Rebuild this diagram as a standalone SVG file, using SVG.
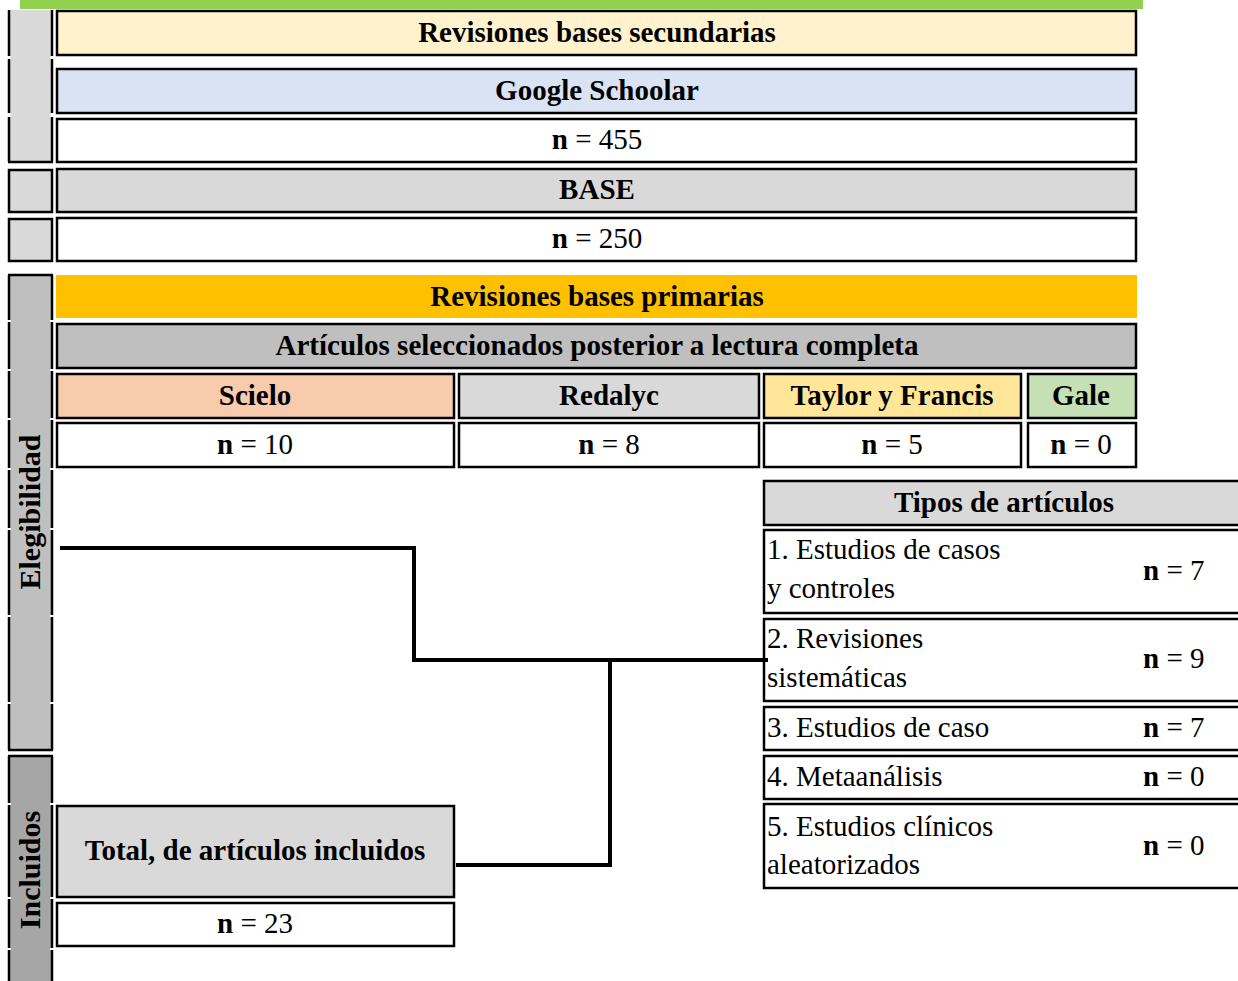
<svg xmlns="http://www.w3.org/2000/svg" width="1238" height="981" viewBox="0 0 1238 981">
<style>
text{font-family:'Liberation Serif',serif;font-size:29px;fill:#000}
.b{font-weight:bold}
.c{text-anchor:middle}
.v{font-size:30px}
.box{stroke:#000;stroke-width:2.5}
.ln{fill:none;stroke:#000;stroke-width:4}
.side{stroke:#000;stroke-width:2.5}
.gap{fill:#fff}
</style>
<rect x="0" y="0" width="1238" height="981" fill="#fff"/>
<rect x="20" y="0" width="1123" height="9" fill="#92d050"/>

<g id="strip-top">
<rect x="9" y="10" width="43" height="152" fill="#d9d9d9"/>
<line class="side" x1="9" y1="10" x2="9" y2="162"/>
<line class="side" x1="52" y1="10" x2="52" y2="162"/>
<line class="side" x1="8" y1="162" x2="53" y2="162"/>
<rect class="gap" x="6" y="56" width="50" height="3"/>
<rect class="gap" x="6" y="113" width="50" height="4"/>
<rect x="10.5" y="56" width="40" height="3" fill="#d9d9d9"/>
<rect x="10.5" y="113" width="40" height="4" fill="#d9d9d9"/>
</g>
<g id="strip-2"><rect class="box" x="9" y="170" width="43" height="42" fill="#d9d9d9"/></g>
<g id="strip-3"><rect class="box" x="9" y="219" width="43" height="42" fill="#d9d9d9"/></g>

<g id="elegibilidad">
<rect x="9" y="275" width="43" height="475" fill="#bfbfbf"/>
<line class="side" x1="9" y1="275" x2="9" y2="750"/>
<line class="side" x1="52" y1="275" x2="52" y2="750"/>
<line class="side" x1="8" y1="275" x2="53" y2="275"/>
<line class="side" x1="8" y1="750" x2="53" y2="750"/>
<g class="gap">
<rect x="6" y="320" width="5" height="2"/><rect x="50" y="320" width="5" height="2"/>
<rect x="6" y="369" width="5" height="2"/><rect x="50" y="369" width="5" height="2"/>
<rect x="6" y="418" width="5" height="2"/><rect x="50" y="418" width="5" height="2"/>
<rect x="6" y="468" width="5" height="2"/><rect x="50" y="468" width="5" height="2"/>
<rect x="6" y="528" width="5" height="2"/><rect x="50" y="528" width="5" height="2"/>
<rect x="6" y="615" width="5" height="2"/><rect x="50" y="615" width="5" height="2"/>
<rect x="6" y="702" width="5" height="2"/><rect x="50" y="702" width="5" height="2"/>
</g>
<text class="b c v" transform="translate(40,512) rotate(-90)">Elegibilidad</text>
</g>

<g id="incluidos">
<rect x="9" y="756" width="43" height="230" fill="#a6a6a6"/>
<line class="side" x1="9" y1="756" x2="9" y2="981"/>
<line class="side" x1="52" y1="756" x2="52" y2="981"/>
<line class="side" x1="8" y1="756" x2="53" y2="756"/>
<g class="gap">
<rect x="6" y="803" width="5" height="2"/><rect x="50" y="803" width="5" height="2"/>
<rect x="6" y="897" width="5" height="2"/><rect x="50" y="897" width="5" height="2"/>
<rect x="6" y="948" width="5" height="2"/><rect x="50" y="948" width="5" height="2"/>
</g>
<text class="b c v" transform="translate(40,870) rotate(-90)">Incluidos</text>
</g>

<g id="sec-title"><rect class="box" x="57" y="11" width="1079" height="44" fill="#fff2cc"/><text class="b c" x="597" y="42">Revisiones bases secundarias</text></g>
<g id="google"><rect class="box" x="57" y="69" width="1079" height="44" fill="#dae3f3"/><text class="b c" x="597" y="100">Google Schoolar</text></g>
<g id="google-n"><rect class="box" x="57" y="119" width="1079" height="43" fill="#fff"/><text class="c" x="597" y="149"><tspan class="b">n</tspan> = 455</text></g>
<g id="base"><rect class="box" x="57" y="169" width="1079" height="43" fill="#d9d9d9"/><text class="b c" x="597" y="199">BASE</text></g>
<g id="base-n"><rect class="box" x="57" y="218" width="1079" height="43" fill="#fff"/><text class="c" x="597" y="248"><tspan class="b">n</tspan> = 250</text></g>

<g id="prim-title"><rect x="56" y="275" width="1081" height="43" fill="#ffc000"/><text class="b c" x="597" y="306">Revisiones bases primarias</text></g>
<g id="articulos"><rect class="box" x="57" y="324" width="1079" height="44" fill="#bfbfbf"/><text class="b c" x="597" y="355">Artículos seleccionados posterior a lectura completa</text></g>

<g id="scielo"><rect class="box" x="57" y="374" width="397" height="44" fill="#f8cbad"/><text class="b c" x="255" y="405">Scielo</text></g>
<g id="scielo-n"><rect class="box" x="57" y="423" width="397" height="44" fill="#fff"/><text class="c" x="255" y="454"><tspan class="b">n</tspan> = 10</text></g>
<g id="redalyc"><rect class="box" x="459" y="374" width="300" height="44" fill="#d9d9d9"/><text class="b c" x="609" y="405">Redalyc</text></g>
<g id="redalyc-n"><rect class="box" x="459" y="423" width="300" height="44" fill="#fff"/><text class="c" x="609" y="454"><tspan class="b">n</tspan> = 8</text></g>
<g id="taylor"><rect class="box" x="764" y="374" width="257" height="44" fill="#ffe699"/><text class="b c" x="892" y="405">Taylor y Francis</text></g>
<g id="taylor-n"><rect class="box" x="764" y="423" width="257" height="44" fill="#fff"/><text class="c" x="892" y="454"><tspan class="b">n</tspan> = 5</text></g>
<g id="gale"><rect class="box" x="1028" y="374" width="108" height="44" fill="#c5e0b4"/><text class="b c" x="1081" y="405">Gale</text></g>
<g id="gale-n"><rect class="box" x="1028" y="423" width="108" height="44" fill="#fff"/><text class="c" x="1081" y="454"><tspan class="b">n</tspan> = 0</text></g>

<g id="tipos"><rect class="box" x="764" y="481" width="480" height="44" fill="#d9d9d9"/><text class="b c" x="1004" y="512">Tipos de artículos</text></g>
<g id="tipo1"><rect class="box" x="764" y="530" width="480" height="83" fill="#fff"/><text x="767" y="559">1. Estudios de casos</text><text x="767" y="598">y controles</text><text x="1143" y="580"><tspan class="b">n</tspan> = 7</text></g>
<g id="tipo2"><rect class="box" x="764" y="619" width="480" height="82" fill="#fff"/><text x="767" y="648">2. Revisiones</text><text x="767" y="687">sistemáticas</text><text x="1143" y="668"><tspan class="b">n</tspan> = 9</text></g>
<g id="tipo3"><rect class="box" x="764" y="707" width="480" height="43" fill="#fff"/><text x="767" y="737">3. Estudios de caso</text><text x="1143" y="737"><tspan class="b">n</tspan> = 7</text></g>
<g id="tipo4"><rect class="box" x="764" y="756" width="480" height="43" fill="#fff"/><text x="767" y="786">4. Metaanálisis</text><text x="1143" y="786"><tspan class="b">n</tspan> = 0</text></g>
<g id="tipo5"><rect class="box" x="764" y="804" width="480" height="84" fill="#fff"/><text x="767" y="836">5. Estudios clínicos</text><text x="767" y="874">aleatorizados</text><text x="1143" y="855"><tspan class="b">n</tspan> = 0</text></g>

<g id="total"><rect class="box" x="57" y="806" width="397" height="91" fill="#d9d9d9"/><text class="b c" x="255" y="860">Total, de artículos incluidos</text></g>
<g id="total-n"><rect class="box" x="57" y="903" width="397" height="43" fill="#fff"/><text class="c" x="255" y="933"><tspan class="b">n</tspan> = 23</text></g>

<g id="connectors">
<polyline class="ln" points="60,548 414,548 414,660 768,660"/>
<polyline class="ln" points="456,865 610,865 610,660"/>
</g>
</svg>
